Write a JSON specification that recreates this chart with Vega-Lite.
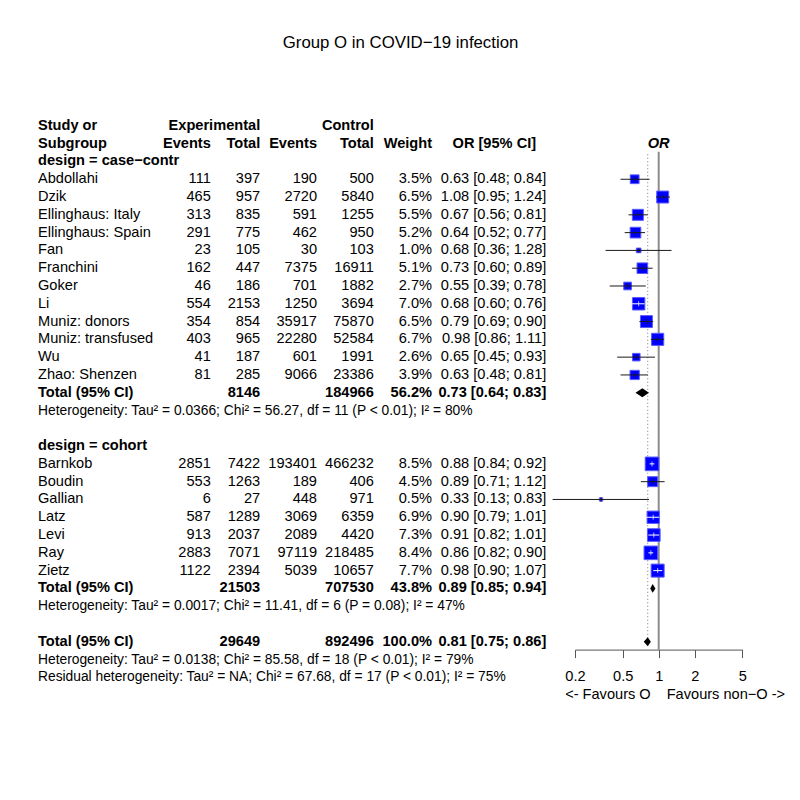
{
  "$schema": "https://vega.github.io/schema/vega-lite/v6.json",
  "padding": {"left": 38, "top": 34, "right": 0, "bottom": 0},
  "title": {"text": "Group O in COVID−19 infection", "fontSize": 16.8, "font": "Liberation Sans", "fontWeight": "normal", "anchor": "middle", "baseline": "top", "offset": 65.6, "dx": -11, "color": "black"},
  "config": {
    "view": {"stroke": null},
    "text": {"font": "Liberation Sans", "fontSize": 14.6, "baseline": "middle", "color": "black"},
    "axis": {"labelFont": "Liberation Sans"}
  },
  "datasets": {
    "t": [
      {"row": 0, "type": "header", "study": "Study or", "n_e": "Experimental", "n_c": "Control"},
      {"row": 1, "type": "header", "study": "Subgroup", "ev_e": "Events", "n_e": "Total", "ev_c": "Events", "n_c": "Total", "weight": "Weight", "ci": "OR [95% CI]", "plot": "OR", "or_ref": 1},
      {"row": 2, "type": "group", "study": "design = case−contr"},
      {"row": 3, "type": "study", "study": "Abdollahi", "ev_e": 111, "n_e": 397, "ev_c": 190, "n_c": 500, "weight": 0.035, "ci": "0.63 [0.48; 0.84]", "est": 0.63, "lower": 0.48, "upper": 0.84},
      {"row": 4, "type": "study", "study": "Dzik", "ev_e": 465, "n_e": 957, "ev_c": 2720, "n_c": 5840, "weight": 0.065, "ci": "1.08 [0.95; 1.24]", "est": 1.08, "lower": 0.95, "upper": 1.24},
      {"row": 5, "type": "study", "study": "Ellinghaus: Italy", "ev_e": 313, "n_e": 835, "ev_c": 591, "n_c": 1255, "weight": 0.055, "ci": "0.67 [0.56; 0.81]", "est": 0.67, "lower": 0.56, "upper": 0.81},
      {"row": 6, "type": "study", "study": "Ellinghaus: Spain", "ev_e": 291, "n_e": 775, "ev_c": 462, "n_c": 950, "weight": 0.052, "ci": "0.64 [0.52; 0.77]", "est": 0.64, "lower": 0.52, "upper": 0.77},
      {"row": 7, "type": "study", "study": "Fan", "ev_e": 23, "n_e": 105, "ev_c": 30, "n_c": 103, "weight": 0.010, "ci": "0.68 [0.36; 1.28]", "est": 0.68, "lower": 0.36, "upper": 1.28},
      {"row": 8, "type": "study", "study": "Franchini", "ev_e": 162, "n_e": 447, "ev_c": 7375, "n_c": 16911, "weight": 0.051, "ci": "0.73 [0.60; 0.89]", "est": 0.73, "lower": 0.60, "upper": 0.89},
      {"row": 9, "type": "study", "study": "Goker", "ev_e": 46, "n_e": 186, "ev_c": 701, "n_c": 1882, "weight": 0.027, "ci": "0.55 [0.39; 0.78]", "est": 0.55, "lower": 0.39, "upper": 0.78},
      {"row": 10, "type": "study", "study": "Li", "ev_e": 554, "n_e": 2153, "ev_c": 1250, "n_c": 3694, "weight": 0.070, "ci": "0.68 [0.60; 0.76]", "est": 0.68, "lower": 0.60, "upper": 0.76},
      {"row": 11, "type": "study", "study": "Muniz: donors", "ev_e": 354, "n_e": 854, "ev_c": 35917, "n_c": 75870, "weight": 0.065, "ci": "0.79 [0.69; 0.90]", "est": 0.79, "lower": 0.69, "upper": 0.90},
      {"row": 12, "type": "study", "study": "Muniz: transfused", "ev_e": 403, "n_e": 965, "ev_c": 22280, "n_c": 52584, "weight": 0.067, "ci": "0.98 [0.86; 1.11]", "est": 0.98, "lower": 0.86, "upper": 1.11},
      {"row": 13, "type": "study", "study": "Wu", "ev_e": 41, "n_e": 187, "ev_c": 601, "n_c": 1991, "weight": 0.026, "ci": "0.65 [0.45; 0.93]", "est": 0.65, "lower": 0.45, "upper": 0.93},
      {"row": 14, "type": "study", "study": "Zhao: Shenzen", "ev_e": 81, "n_e": 285, "ev_c": 9066, "n_c": 23386, "weight": 0.039, "ci": "0.63 [0.48; 0.81]", "est": 0.63, "lower": 0.48, "upper": 0.81},
      {"row": 15, "type": "total", "study": "Total (95% CI)", "n_e": 8146, "n_c": 184966, "weight": 0.562, "ci": "0.73 [0.64; 0.83]", "est": 0.73, "lower": 0.64, "upper": 0.83},
      {"row": 16, "type": "het", "study": "Heterogeneity: Tau² = 0.0366; Chi² = 56.27, df = 11 (P < 0.01); I² = 80%"},
      {"row": 18, "type": "group", "study": "design = cohort"},
      {"row": 19, "type": "study", "study": "Barnkob", "ev_e": 2851, "n_e": 7422, "ev_c": 193401, "n_c": 466232, "weight": 0.085, "ci": "0.88 [0.84; 0.92]", "est": 0.88, "lower": 0.84, "upper": 0.92},
      {"row": 20, "type": "study", "study": "Boudin", "ev_e": 553, "n_e": 1263, "ev_c": 189, "n_c": 406, "weight": 0.045, "ci": "0.89 [0.71; 1.12]", "est": 0.89, "lower": 0.71, "upper": 1.12},
      {"row": 21, "type": "study", "study": "Gallian", "ev_e": 6, "n_e": 27, "ev_c": 448, "n_c": 971, "weight": 0.005, "ci": "0.33 [0.13; 0.83]", "est": 0.33, "lower": 0.13, "upper": 0.83},
      {"row": 22, "type": "study", "study": "Latz", "ev_e": 587, "n_e": 1289, "ev_c": 3069, "n_c": 6359, "weight": 0.069, "ci": "0.90 [0.79; 1.01]", "est": 0.90, "lower": 0.79, "upper": 1.01},
      {"row": 23, "type": "study", "study": "Levi", "ev_e": 913, "n_e": 2037, "ev_c": 2089, "n_c": 4420, "weight": 0.073, "ci": "0.91 [0.82; 1.01]", "est": 0.91, "lower": 0.82, "upper": 1.01},
      {"row": 24, "type": "study", "study": "Ray", "ev_e": 2883, "n_e": 7071, "ev_c": 97119, "n_c": 218485, "weight": 0.084, "ci": "0.86 [0.82; 0.90]", "est": 0.86, "lower": 0.82, "upper": 0.90},
      {"row": 25, "type": "study", "study": "Zietz", "ev_e": 1122, "n_e": 2394, "ev_c": 5039, "n_c": 10657, "weight": 0.077, "ci": "0.98 [0.90; 1.07]", "est": 0.98, "lower": 0.90, "upper": 1.07},
      {"row": 26, "type": "total", "study": "Total (95% CI)", "n_e": 21503, "n_c": 707530, "weight": 0.438, "ci": "0.89 [0.85; 0.94]", "est": 0.89, "lower": 0.85, "upper": 0.94},
      {"row": 27, "type": "het", "study": "Heterogeneity: Tau² = 0.0017; Chi² = 11.41, df = 6 (P = 0.08); I² = 47%"},
      {"row": 29, "type": "overall", "study": "Total (95% CI)", "n_e": 29649, "n_c": 892496, "weight": 1.0, "ci": "0.81 [0.75; 0.86]", "est": 0.81, "lower": 0.75, "upper": 0.86},
      {"row": 30, "type": "het", "study": "Heterogeneity: Tau² = 0.0138; Chi² = 85.58, df = 18 (P < 0.01); I² = 79%"},
      {"row": 31, "type": "het", "study": "Residual heterogeneity: Tau² = NA; Chi² = 67.68, df = 17 (P < 0.01); I² = 75%"},
      {"row": 32, "type": "favours", "left": "<- Favours O", "right": "Favours non−O ->", "or_ref": 1}
    ]
  },
  "bounds": "flush",
  "spacing": 0,
  "hconcat": [
    {
      "width": 122, "height": 569.3, "data": {"name": "t"},
      "layer": [
        {"transform": [{"filter": "datum.type === 'study'"}], "mark": {"type": "text", "align": "left"},
         "encoding": {"x": {"value": 0}, "y": {"field": "row", "type": "quantitative", "scale": {"domain": [-0.5, 31.5], "reverse": true, "nice": false, "zero": false}, "axis": null}, "text": {"field": "study", "type": "nominal"}}},
        {"transform": [{"filter": "datum.type === 'header' || datum.type === 'group' || datum.type === 'total' || datum.type === 'overall'"}], "mark": {"type": "text", "align": "left", "fontWeight": "bold"},
         "encoding": {"x": {"value": 0}, "y": {"field": "row", "type": "quantitative", "axis": null}, "text": {"field": "study", "type": "nominal"}}},
        {"transform": [{"filter": "datum.type === 'het'"}], "mark": {"type": "text", "align": "left", "fontSize": 13.8},
         "encoding": {"x": {"value": 0}, "y": {"field": "row", "type": "quantitative", "axis": null}, "text": {"field": "study", "type": "nominal"}}}
      ]
    },
    {
      "width": 50.8, "height": 569.3, "data": {"name": "t"},
      "layer": [
        {"transform": [{"filter": "datum.type === 'study'"}], "mark": {"type": "text", "align": "right"},
         "encoding": {"x": {"value": "width"}, "y": {"field": "row", "type": "quantitative", "scale": {"domain": [-0.5, 31.5], "reverse": true, "nice": false, "zero": false}, "axis": null}, "text": {"field": "ev_e", "type": "quantitative", "format": "d"}}},
        {"transform": [{"filter": "datum.type === 'header' && isValid(datum.ev_e)"}], "mark": {"type": "text", "align": "right", "fontWeight": "bold"},
         "encoding": {"x": {"value": "width"}, "y": {"field": "row", "type": "quantitative", "axis": null}, "text": {"field": "ev_e", "type": "nominal"}}}
      ]
    },
    {
      "width": 49.2, "height": 569.3, "data": {"name": "t"},
      "layer": [
        {"transform": [{"filter": "datum.type === 'study'"}], "mark": {"type": "text", "align": "right"},
         "encoding": {"x": {"value": "width"}, "y": {"field": "row", "type": "quantitative", "scale": {"domain": [-0.5, 31.5], "reverse": true, "nice": false, "zero": false}, "axis": null}, "text": {"field": "n_e", "type": "quantitative", "format": "d"}}},
        {"transform": [{"filter": "datum.type === 'total' || datum.type === 'overall'"}], "mark": {"type": "text", "align": "right", "fontWeight": "bold"},
         "encoding": {"x": {"value": "width"}, "y": {"field": "row", "type": "quantitative", "axis": null}, "text": {"field": "n_e", "type": "quantitative", "format": "d"}}},
        {"transform": [{"filter": "datum.type === 'header' && isValid(datum.n_e)"}], "mark": {"type": "text", "align": "right", "fontWeight": "bold"},
         "encoding": {"x": {"value": "width"}, "y": {"field": "row", "type": "quantitative", "axis": null}, "text": {"field": "n_e", "type": "nominal"}}}
      ]
    },
    {
      "width": 56, "height": 569.3, "data": {"name": "t"},
      "layer": [
        {"transform": [{"filter": "datum.type === 'study'"}], "mark": {"type": "text", "align": "right"},
         "encoding": {"x": {"value": "width"}, "y": {"field": "row", "type": "quantitative", "scale": {"domain": [-0.5, 31.5], "reverse": true, "nice": false, "zero": false}, "axis": null}, "text": {"field": "ev_c", "type": "quantitative", "format": "d"}}},
        {"transform": [{"filter": "datum.type === 'header' && isValid(datum.ev_c)"}], "mark": {"type": "text", "align": "right", "fontWeight": "bold"},
         "encoding": {"x": {"value": "width"}, "y": {"field": "row", "type": "quantitative", "axis": null}, "text": {"field": "ev_c", "type": "nominal"}}}
      ]
    },
    {
      "width": 56.8, "height": 569.3, "data": {"name": "t"},
      "layer": [
        {"transform": [{"filter": "datum.type === 'study'"}], "mark": {"type": "text", "align": "right"},
         "encoding": {"x": {"value": "width"}, "y": {"field": "row", "type": "quantitative", "scale": {"domain": [-0.5, 31.5], "reverse": true, "nice": false, "zero": false}, "axis": null}, "text": {"field": "n_c", "type": "quantitative", "format": "d"}}},
        {"transform": [{"filter": "datum.type === 'total' || datum.type === 'overall'"}], "mark": {"type": "text", "align": "right", "fontWeight": "bold"},
         "encoding": {"x": {"value": "width"}, "y": {"field": "row", "type": "quantitative", "axis": null}, "text": {"field": "n_c", "type": "quantitative", "format": "d"}}},
        {"transform": [{"filter": "datum.type === 'header' && isValid(datum.n_c)"}], "mark": {"type": "text", "align": "right", "fontWeight": "bold"},
         "encoding": {"x": {"value": "width"}, "y": {"field": "row", "type": "quantitative", "axis": null}, "text": {"field": "n_c", "type": "nominal"}}}
      ]
    },
    {
      "width": 58, "height": 569.3, "data": {"name": "t"},
      "layer": [
        {"transform": [{"filter": "datum.type === 'study'"}], "mark": {"type": "text", "align": "right"},
         "encoding": {"x": {"value": "width"}, "y": {"field": "row", "type": "quantitative", "scale": {"domain": [-0.5, 31.5], "reverse": true, "nice": false, "zero": false}, "axis": null}, "text": {"field": "weight", "type": "quantitative", "format": ".1%"}}},
        {"transform": [{"filter": "datum.type === 'total' || datum.type === 'overall'"}], "mark": {"type": "text", "align": "right", "fontWeight": "bold"},
         "encoding": {"x": {"value": "width"}, "y": {"field": "row", "type": "quantitative", "axis": null}, "text": {"field": "weight", "type": "quantitative", "format": ".1%"}}},
        {"transform": [{"filter": "datum.type === 'header' && isValid(datum.weight)"}], "mark": {"type": "text", "align": "right", "fontWeight": "bold"},
         "encoding": {"x": {"value": "width"}, "y": {"field": "row", "type": "quantitative", "axis": null}, "text": {"field": "weight", "type": "nominal"}}}
      ]
    },
    {
      "width": 142.5, "height": 569.3, "data": {"name": "t"},
      "layer": [
        {"transform": [{"filter": "datum.type === 'study'"}], "mark": {"type": "text", "align": "right", "dx": -28.2},
         "encoding": {"x": {"value": "width"}, "y": {"field": "row", "type": "quantitative", "scale": {"domain": [-0.5, 31.5], "reverse": true, "nice": false, "zero": false}, "axis": null}, "text": {"field": "ci", "type": "nominal"}}},
        {"transform": [{"filter": "datum.type === 'total' || datum.type === 'overall'"}], "mark": {"type": "text", "align": "right", "fontWeight": "bold", "dx": -28.2},
         "encoding": {"x": {"value": "width"}, "y": {"field": "row", "type": "quantitative", "axis": null}, "text": {"field": "ci", "type": "nominal"}}},
        {"transform": [{"filter": "datum.type === 'header' && isValid(datum.ci)"}], "mark": {"type": "text", "align": "right", "fontWeight": "bold", "dx": -38.4},
         "encoding": {"x": {"value": "width"}, "y": {"field": "row", "type": "quantitative", "axis": null}, "text": {"field": "ci", "type": "nominal"}}}
      ]
    },
    {
      "width": 167.4, "height": 532.6, "data": {"name": "t"},
      "layer": [
        {"transform": [{"filter": "datum.row >= 1 && datum.row <= 29"}, {"joinaggregate": [{"op": "max", "field": "row", "as": "bottom"}], "groupby": []}, {"filter": "isValid(datum.or_ref)"}],
         "mark": {"type": "rule", "color": "#8c8c8c", "strokeWidth": 2, "yOffset": 8, "y2Offset": 8},
         "encoding": {
           "x": {"field": "or_ref", "type": "quantitative", "title": null},
           "y": {"field": "row", "type": "quantitative", "axis": null},
           "y2": {"field": "bottom"}
         }},
        {"transform": [{"filter": "datum.row >= 1"}, {"joinaggregate": [{"op": "min", "field": "row", "as": "top"}], "groupby": []}, {"filter": "datum.type === 'overall'"}],
         "mark": {"type": "rule", "color": "#777777", "strokeWidth": 1, "strokeDash": [1, 2.5], "y2Offset": 8},
         "encoding": {
           "x": {"field": "est", "type": "quantitative", "title": null},
           "y": {"field": "row", "type": "quantitative", "axis": null},
           "y2": {"field": "top"}
         }},
        {"transform": [{"filter": "datum.type === 'study'"}], "mark": {"type": "point", "shape": "square", "filled": true, "color": "#0000ff", "stroke": "#5a5aff", "strokeWidth": 1, "opacity": 1},
         "encoding": {
           "x": {"field": "est", "type": "quantitative", "title": null, "scale": {"type": "log", "domain": [0.2, 5], "nice": false, "zero": false},
                 "axis": {"values": [0.2, 0.5, 1, 2, 5], "format": "~g", "title": null, "grid": false, "domainColor": "#555555", "tickColor": "#555555", "domainWidth": 1, "tickWidth": 1, "tickSize": 8, "labelFontSize": 14.6, "labelColor": "black", "labelPadding": 11, "labelFlush": false, "labelOverlap": false}},
           "y": {"field": "row", "type": "quantitative", "scale": {"domain": [-0.5, 29.44], "reverse": true, "nice": false, "zero": false}, "axis": null},
           "size": {"field": "weight", "type": "quantitative", "scale": {"type": "linear", "domain": [0, 0.1], "range": [0, 220]}, "legend": null}
         }},
        {"transform": [{"filter": "datum.type === 'study'"}], "mark": {"type": "rule", "strokeWidth": 1},
         "encoding": {
           "x": {"field": "lower", "type": "quantitative", "title": null},
           "x2": {"field": "upper"},
           "y": {"field": "row", "type": "quantitative", "axis": null},
           "color": {"condition": {"test": "indexof(['Li','Barnkob','Latz','Levi','Ray','Zietz'], datum.study) >= 0", "value": "white"}, "value": "#1a1a1a"}
         }},
        {"transform": [{"filter": "datum.type === 'study'"}], "mark": {"type": "tick", "orient": "vertical", "size": 5, "thickness": 1},
         "encoding": {
           "x": {"field": "est", "type": "quantitative", "title": null},
           "y": {"field": "row", "type": "quantitative", "axis": null},
           "color": {"condition": {"test": "indexof(['Li','Barnkob','Latz','Levi','Ray','Zietz'], datum.study) >= 0", "value": "white"}, "value": "#1a1a1a"}
         }},
        {"transform": [{"filter": "datum.type === 'total' || datum.type === 'overall'"}],
         "mark": {"type": "point", "filled": true, "color": "black", "opacity": 1, "strokeWidth": 0, "size": 77.4},
         "encoding": {
           "x": {"field": "est", "type": "quantitative", "title": null},
           "y": {"field": "row", "type": "quantitative", "axis": null},
           "shape": {"field": "row", "type": "nominal", "legend": null,
                     "scale": {"domain": [15, 26, 29], "range": ["M-1.555,0L0,-1L1.518,0L0,1Z", "M-0.543,0L0,-1L0.645,0L0,1Z", "M-0.909,0L0,-1L0.707,0L0,1Z"]}}
         }},
        {"transform": [{"filter": "datum.row === 1"}], "mark": {"type": "text", "align": "center", "fontWeight": "bold", "fontStyle": "italic"},
         "encoding": {"x": {"field": "or_ref", "type": "quantitative", "title": null}, "y": {"field": "row", "type": "quantitative", "axis": null}, "text": {"field": "plot", "type": "nominal"}}},
        {"transform": [{"filter": "datum.type === 'favours'"}], "mark": {"type": "text", "align": "right", "dx": -8},
         "encoding": {"x": {"field": "or_ref", "type": "quantitative", "title": null}, "y": {"field": "row", "type": "quantitative", "axis": null}, "text": {"field": "left", "type": "nominal"}}},
        {"transform": [{"filter": "datum.type === 'favours'"}], "mark": {"type": "text", "align": "left", "dx": 8},
         "encoding": {"x": {"field": "or_ref", "type": "quantitative", "title": null}, "y": {"field": "row", "type": "quantitative", "axis": null}, "text": {"field": "right", "type": "nominal"}}}
      ]
    }
  ]
}
